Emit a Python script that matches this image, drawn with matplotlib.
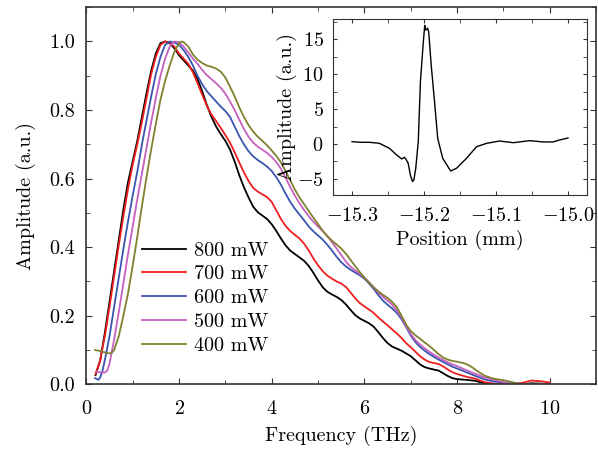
import numpy as np
import matplotlib
matplotlib.use("Agg")
from matplotlib import pyplot as plt
from matplotlib.ticker import MultipleLocator, FormatStrFormatter

plt.rcParams['font.family'] = ['cmr10', 'DejaVu Serif']
plt.rcParams['mathtext.fontset'] = 'cm'
plt.rcParams['axes.formatter.use_mathtext'] = True
plt.rcParams['font.size'] = 14.5

# spectra, normalised amplitude vs frequency (THz)
x_800 = [0.2, 0.3, 0.4, 0.5, 0.6, 0.7, 0.8, 0.9, 1.0, 1.1, 1.2, 1.3, 1.4, 1.5, 1.6, 1.7, 1.8, 1.9, 2.0,
         2.1, 2.2, 2.3, 2.4, 2.5, 2.6, 2.7, 2.8, 2.9, 3.0, 3.1, 3.2, 3.3, 3.4, 3.5, 3.6, 3.7, 3.8, 3.9,
         4.0, 4.1, 4.2, 4.3, 4.4, 4.5, 4.6, 4.7, 4.8, 4.9, 5.0, 5.1, 5.2, 5.3, 5.4, 5.5, 5.6, 5.7, 5.8,
         5.9, 6.0, 6.1, 6.2, 6.3, 6.4, 6.5, 6.6, 6.7, 6.8, 6.9, 7.0, 7.1, 7.2, 7.3, 7.4, 7.5, 7.6, 7.7,
         7.8, 7.9, 8.0, 8.2, 8.4, 8.6, 8.8, 9.0, 9.4, 9.6, 9.8, 10.0]
y_800 = [0.027, 0.07, 0.15, 0.24, 0.33, 0.42, 0.51, 0.59, 0.65, 0.71, 0.78, 0.85, 0.915, 0.965, 0.995, 1.0,
         0.995, 0.98, 0.96, 0.945, 0.93, 0.915, 0.89, 0.855, 0.815, 0.78, 0.752, 0.73, 0.71, 0.685, 0.65,
         0.61, 0.575, 0.545, 0.518, 0.502, 0.492, 0.482, 0.467, 0.447, 0.425, 0.405, 0.39, 0.38, 0.37, 0.36,
         0.345, 0.325, 0.303, 0.283, 0.27, 0.262, 0.255, 0.246, 0.233, 0.217, 0.202, 0.192, 0.185, 0.178,
         0.168, 0.152, 0.135, 0.12, 0.11, 0.104, 0.098, 0.09, 0.082, 0.07, 0.058, 0.05, 0.046, 0.043,
         0.04, 0.032, 0.024, 0.018, 0.015, 0.013, 0.01, 0.002, 0.0, 0.0, 0.0, 0.003, 0.002, 0.0]

x_700 = [0.2, 0.3, 0.4, 0.5, 0.6, 0.7, 0.8, 0.9, 1.0, 1.1, 1.2, 1.3, 1.4, 1.5, 1.6, 1.7, 1.8, 1.9, 2.0,
         2.1, 2.2, 2.3, 2.4, 2.5, 2.6, 2.7, 2.8, 2.9, 3.0, 3.1, 3.2, 3.3, 3.4, 3.5, 3.6, 3.7, 3.8, 3.9,
         4.0, 4.1, 4.2, 4.3, 4.4, 4.5, 4.6, 4.7, 4.8, 4.9, 5.0, 5.1, 5.2, 5.3, 5.4, 5.5, 5.6, 5.7, 5.8,
         5.9, 6.0, 6.1, 6.2, 6.3, 6.4, 6.5, 6.6, 6.7, 6.8, 6.9, 7.0, 7.1, 7.2, 7.3, 7.4, 7.5, 7.6, 7.7,
         7.8, 7.9, 8.0, 8.2, 8.4, 8.6, 8.8, 9.0, 9.2, 9.4, 9.6, 9.8, 10.0]
y_700 = [0.03, 0.07, 0.14, 0.225, 0.315, 0.405, 0.49, 0.57, 0.64, 0.70, 0.765, 0.835, 0.905, 0.955, 0.99,
         1.0, 0.997, 0.985, 0.965, 0.95, 0.935, 0.91, 0.878, 0.845, 0.812, 0.787, 0.768, 0.748, 0.727, 0.705,
         0.677, 0.647, 0.618, 0.593, 0.573, 0.562, 0.554, 0.546, 0.532, 0.507, 0.482, 0.462, 0.447, 0.436,
         0.425, 0.41, 0.39, 0.367, 0.347, 0.33, 0.317, 0.308, 0.30, 0.294, 0.284, 0.268, 0.251, 0.237,
         0.227, 0.218, 0.208, 0.195, 0.183, 0.172, 0.16, 0.148, 0.135, 0.12, 0.108, 0.095, 0.082, 0.072,
         0.065, 0.062, 0.059, 0.052, 0.043, 0.035, 0.03, 0.022, 0.016, 0.006, 0.002, 0.0, 0.002, 0.004,
         0.011, 0.009, 0.005]

x_600 = [0.19, 0.26, 0.3, 0.35, 0.4, 0.5, 0.6, 0.7, 0.8, 0.9, 1.0, 1.1, 1.2, 1.3, 1.4, 1.5, 1.6, 1.7,
         1.8, 1.9, 2.0, 2.1, 2.2, 2.3, 2.4, 2.5, 2.6, 2.7, 2.8, 2.9, 3.0, 3.1, 3.2, 3.3, 3.4, 3.5, 3.6,
         3.7, 3.8, 3.9, 4.0, 4.1, 4.2, 4.3, 4.4, 4.5, 4.6, 4.7, 4.8, 4.9, 5.0, 5.1, 5.2, 5.3, 5.4, 5.5,
         5.6, 5.7, 5.8, 5.9, 6.0, 6.1, 6.2, 6.3, 6.4, 6.5, 6.6, 6.7, 6.8, 6.9, 7.0, 7.1, 7.2, 7.3, 7.4,
         7.5, 7.6, 7.7, 7.8, 7.9, 8.0, 8.2, 8.4, 8.6, 8.8, 9.0, 9.2, 9.4, 9.6, 10.0]
y_600 = [0.018, 0.013, 0.02, 0.04, 0.07, 0.14, 0.225, 0.31, 0.395, 0.475, 0.55, 0.62, 0.70, 0.77, 0.84,
         0.905, 0.955, 0.99, 1.0, 0.997, 0.99, 0.975, 0.955, 0.93, 0.90, 0.875, 0.855, 0.84, 0.825, 0.81,
         0.797, 0.78, 0.752, 0.724, 0.70, 0.68, 0.665, 0.654, 0.645, 0.635, 0.622, 0.604, 0.582, 0.556, 0.532,
         0.512, 0.495, 0.478, 0.46, 0.446, 0.434, 0.422, 0.407, 0.39, 0.372, 0.356, 0.344, 0.334, 0.326, 0.318,
         0.308, 0.294, 0.278, 0.26, 0.244, 0.232, 0.221, 0.208, 0.19, 0.167, 0.142, 0.123, 0.109, 0.098,
         0.088, 0.08, 0.072, 0.065, 0.058, 0.051, 0.046, 0.035, 0.024, 0.014, 0.008, 0.005, 0.003, 0.001,
         0.0, 0.0]

x_500 = [0.22, 0.3, 0.4, 0.45, 0.5, 0.6, 0.7, 0.8, 0.9, 1.0, 1.1, 1.2, 1.3, 1.4, 1.5, 1.6, 1.7, 1.8,
         1.9, 2.0, 2.1, 2.2, 2.3, 2.4, 2.5, 2.6, 2.7, 2.8, 2.9, 3.0, 3.1, 3.2, 3.3, 3.4, 3.5, 3.6, 3.7,
         3.8, 3.9, 4.0, 4.1, 4.2, 4.3, 4.4, 4.5, 4.6, 4.7, 4.8, 4.9, 5.0, 5.1, 5.2, 5.3, 5.4, 5.5, 5.6,
         5.7, 5.8, 5.9, 6.0, 6.1, 6.2, 6.3, 6.4, 6.5, 6.6, 6.7, 6.8, 6.9, 7.0, 7.1, 7.2, 7.3, 7.4, 7.5,
         7.6, 7.7, 7.8, 7.9, 8.0, 8.2, 8.4, 8.6, 8.8, 9.0, 9.2, 9.4, 10.0]
y_500 = [0.037, 0.035, 0.034, 0.04, 0.06, 0.13, 0.21, 0.295, 0.38, 0.46, 0.54, 0.615, 0.69, 0.765, 0.835,
         0.90, 0.95, 0.985, 1.0, 0.998, 0.985, 0.968, 0.95, 0.935, 0.917, 0.902, 0.89, 0.878, 0.865, 0.848,
         0.825, 0.80, 0.772, 0.745, 0.722, 0.705, 0.693, 0.684, 0.675, 0.663, 0.648, 0.628, 0.602, 0.575, 0.55,
         0.528, 0.508, 0.49, 0.474, 0.46, 0.447, 0.432, 0.415, 0.396, 0.377, 0.358, 0.343, 0.332, 0.322,
         0.311, 0.298, 0.283, 0.268, 0.255, 0.244, 0.232, 0.215, 0.195, 0.17, 0.147, 0.129, 0.116, 0.105,
         0.095, 0.086, 0.078, 0.071, 0.064, 0.058, 0.053, 0.041, 0.03, 0.02, 0.013, 0.006, 0.002, 0.0, 0.0]

x_400 = [0.19, 0.3, 0.4, 0.5, 0.55, 0.6, 0.7, 0.8, 0.9, 1.0, 1.1, 1.2, 1.3, 1.4, 1.5, 1.6, 1.7, 1.8,
         1.9, 2.0, 2.05, 2.1, 2.2, 2.3, 2.4, 2.5, 2.6, 2.7, 2.8, 2.9, 3.0, 3.1, 3.2, 3.3, 3.4, 3.5, 3.6,
         3.7, 3.8, 3.9, 4.0, 4.1, 4.2, 4.3, 4.4, 4.5, 4.6, 4.7, 4.8, 4.9, 5.0, 5.1, 5.2, 5.3, 5.4, 5.5,
         5.6, 5.7, 5.8, 5.9, 6.0, 6.1, 6.2, 6.3, 6.4, 6.5, 6.6, 6.7, 6.8, 6.9, 7.0, 7.1, 7.2, 7.3, 7.4,
         7.5, 7.6, 7.7, 7.8, 7.9, 8.0, 8.1, 8.2, 8.3, 8.4, 8.5, 8.6, 8.7, 8.8, 8.9, 9.0, 9.2, 9.3, 9.4, 10.0]
y_400 = [0.10, 0.097, 0.093, 0.09, 0.092, 0.10, 0.14, 0.20, 0.265, 0.345, 0.43, 0.52, 0.605, 0.685, 0.76,
         0.83, 0.885, 0.93, 0.97, 0.995, 1.0, 0.998, 0.985, 0.962, 0.947, 0.937, 0.93, 0.926, 0.921, 0.912,
         0.895, 0.868, 0.84, 0.808, 0.78, 0.756, 0.737, 0.722, 0.71, 0.697, 0.682, 0.666, 0.647, 0.622, 0.595,
         0.568, 0.545, 0.525, 0.505, 0.486, 0.467, 0.448, 0.432, 0.419, 0.408, 0.396, 0.381, 0.363, 0.345, 0.327,
         0.311, 0.296, 0.283, 0.271, 0.261, 0.252, 0.24, 0.225, 0.20, 0.174, 0.155, 0.143, 0.133, 0.122,
         0.112, 0.10, 0.088, 0.078, 0.072, 0.068, 0.066, 0.063, 0.059, 0.052, 0.042, 0.033, 0.025, 0.02,
         0.016, 0.014, 0.012, 0.006, 0.002, 0.0, 0.0]

# time-domain waveform for the inset
pos = [-15.300, -15.288, -15.275, -15.262, -15.248, -15.238, -15.231, -15.227, -15.225, -15.222,
       -15.219, -15.216, -15.214, -15.2115, -15.208, -15.205, -15.201, -15.199, -15.1977, -15.195,
       -15.1935, -15.190, -15.185, -15.181, -15.174, -15.163, -15.155, -15.141, -15.127, -15.113,
       -15.095, -15.076, -15.053, -15.035, -15.021, -15.012, -15.000]
amp = [0.33, 0.25, 0.24, 0.1, -0.62, -1.57, -2.14, -1.9, -2.2, -2.76, -4.43, -5.38, -5.1, -3.48, 0.33,
       8.9, 14.6, 17.0, 16.3, 16.6, 16.05, 11.3, 5.6, 0.81, -2.05, -3.86, -3.48, -2.05, -0.38, 0.1, 0.43,
       0.19, 0.48, 0.3, 0.29, 0.57, 0.86]

labels = ['800 mW', '700 mW', '600 mW', '500 mW', '400 mW']
colors = ['#000000', '#f01e1e', '#3a55b0', '#c660c0', '#80802e']
xs = [x_800, x_700, x_600, x_500, x_400]
ys = [y_800, y_700, y_600, y_500, y_400]

fig = plt.figure(figsize=(5.98, 4.5), dpi=100)
ax = fig.add_axes([0.1443, 0.146, 0.8527, 0.838])

for xx, yy, c, lab in zip(xs, ys, colors, labels):
    ax.plot(xx, yy, color=c, lw=1.3, label=lab)

ax.set_xlim(0, 11)
ax.set_ylim(0, 1.1)
ax.xaxis.set_major_locator(MultipleLocator(2))
ax.xaxis.set_minor_locator(MultipleLocator(1))
ax.yaxis.set_major_locator(MultipleLocator(0.2))
ax.yaxis.set_minor_locator(MultipleLocator(0.1))
ax.yaxis.set_major_formatter(FormatStrFormatter('%.1f'))
ax.tick_params(which='both', direction='in', top=True, right=True, color='#333333')
ax.tick_params(which='major', length=4)
ax.tick_params(which='minor', length=3)
ax.tick_params(axis='x', pad=11)
ax.tick_params(axis='y', pad=8)
for s in ax.spines.values():
    s.set_color('#333333')
    s.set_linewidth(1.2)
ax.set_xlabel('Frequency (THz)', labelpad=6)
ax.set_ylabel('Amplitude (a.u.)', labelpad=10)
ax.legend(loc='upper left', bbox_to_anchor=(0.093, 0.40), frameon=False,
          handlelength=2.2, handletextpad=0.4, labelspacing=0.28, borderaxespad=0)

ins = fig.add_axes([0.5574, 0.5667, 0.4237, 0.391])
ins.plot(pos, amp, color='black', lw=1.0)
ins.set_xlim(-15.326, -14.974)
ins.set_ylim(-7.3, 17.9)
ins.xaxis.set_major_locator(MultipleLocator(0.1))
ins.xaxis.set_minor_locator(MultipleLocator(0.05))
ins.yaxis.set_major_locator(MultipleLocator(5))
ins.yaxis.set_minor_locator(MultipleLocator(2.5))
ins.xaxis.set_major_formatter(FormatStrFormatter('$%.1f$'))
ins.yaxis.set_major_formatter(FormatStrFormatter('$%d$'))
ins.tick_params(which='both', direction='in', top=True, right=True, length=3, color='#333333')
ins.tick_params(axis='x', pad=9)
ins.tick_params(axis='y', pad=7)
for s in ins.spines.values():
    s.set_color('#333333')
ins.set_xlabel('Position (mm)', labelpad=3)
ins.set_ylabel('Amplitude (a.u.)', labelpad=0)

fig.savefig('out.png', dpi=100)
